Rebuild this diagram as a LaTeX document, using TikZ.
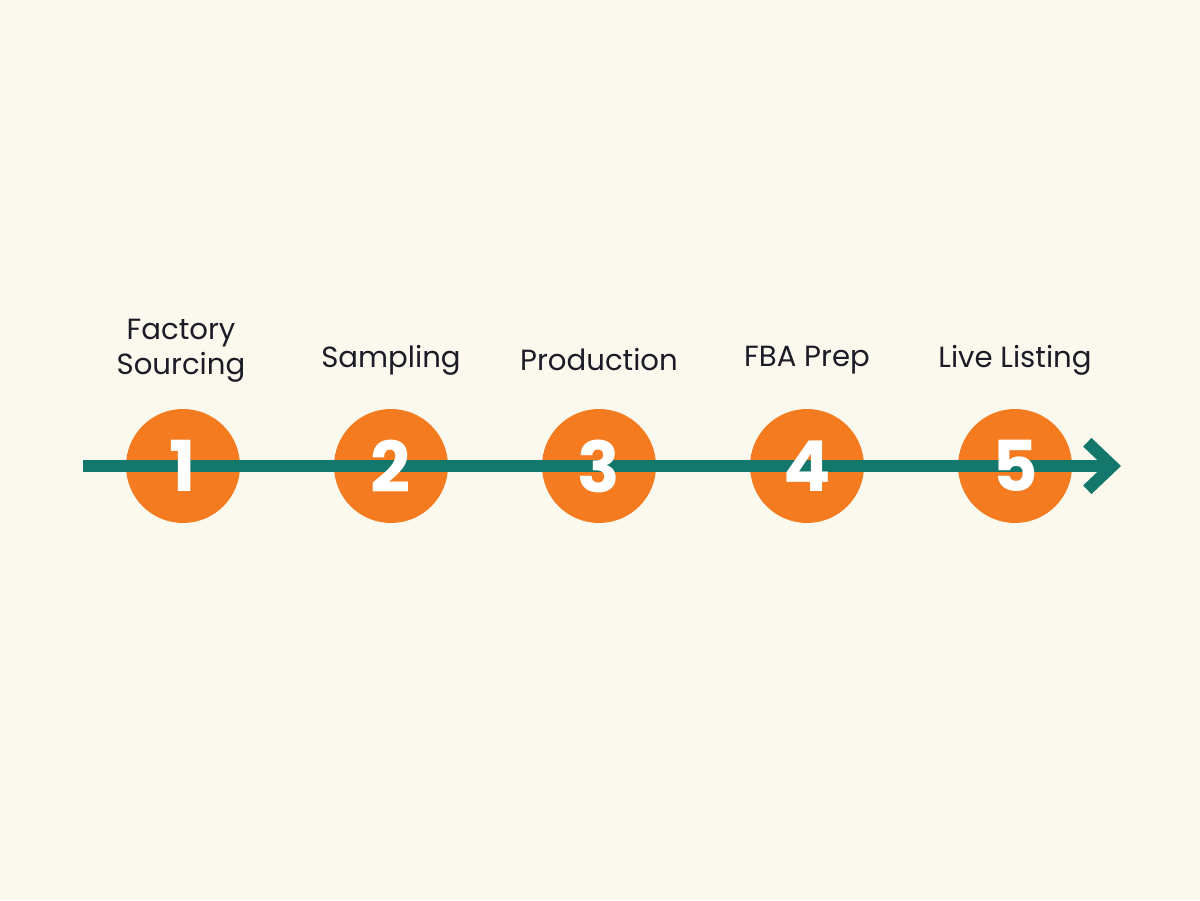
\documentclass[tikz,border=0pt]{standalone}
\usepackage{fontspec}
\setmainfont{Poppins}
\usetikzlibrary{arrows.meta}
\definecolor{creamBg}{HTML}{FBF9EE}
\definecolor{stepOrange}{HTML}{F47B20}
\definecolor{lineTeal}{HTML}{13786B}
\definecolor{labelText}{HTML}{1C1C28}

\tikzset{
    stepcircle/.style={circle, fill=stepOrange, minimum size=2.28cm, inner sep=0pt},
    stepnum/.style={text=white, font=\bfseries\fontsize{40}{40}\selectfont},
    steplabel/.style={text=labelText, align=center, font=\fontsize{16.6}{20}\selectfont},
    timeline/.style={draw=lineTeal, line width=0.24cm}
}

\begin{document}
\begin{tikzpicture}[x=0.02cm, y=-0.02cm, >={Straight Barb[length=0.5cm, width=0.95cm]}]

    % background
    \fill[creamBg] (0,0) rectangle (1200,900);
    \useasboundingbox (0,0) rectangle (1200,900);

    % step circles
    \foreach \i/\x in {1/183, 2/391, 3/599, 4/807, 5/1015}
        \node[stepcircle] (c\i) at (\x,466) {};

    % timeline arrow
    \coordinate (start) at (83,466);
    \coordinate (end) at (1121,466);
    \draw[timeline, ->] (start) -- (end);

    % step numbers
    \foreach \i in {1,...,5}
        \node[stepnum] (n\i) at (c\i) {\i};

    % step labels
    \node[steplabel] (l1) at (181,351) {Factory\\Sourcing};
    \node[steplabel] (l2) at (391,360) {Sampling};
    \node[steplabel] (l3) at (599,360) {Production};
    \node[steplabel] (l4) at (807,360) {FBA Prep};
    \node[steplabel] (l5) at (1015,360) {Live Listing};

\end{tikzpicture}
\end{document}
